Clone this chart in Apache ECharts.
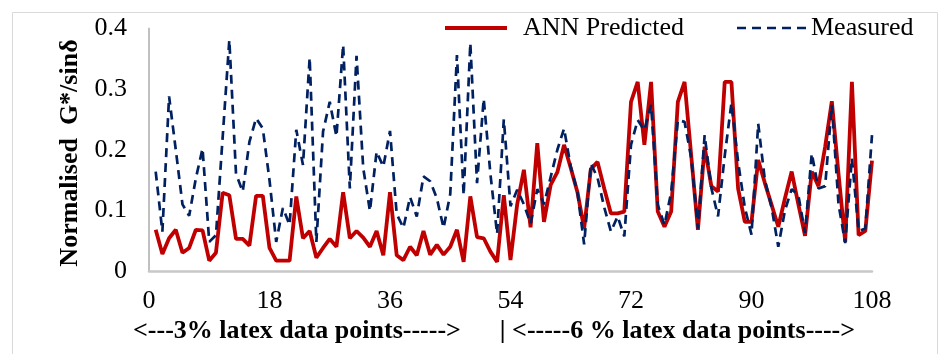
<!DOCTYPE html>
<html><head><meta charset="utf-8">
<script src="https://cdn.jsdelivr.net/npm/echarts@6/dist/echarts.min.js"></script>
<style>html,body{margin:0;padding:0;background:#fff}#c{width:946px;height:354px}</style>
</head><body><div id="c"></div>
<script>
const xMin = 0, xMax = 108, xStep = 18;
const yMin = 0, yMax = 0.4, yStep = 0.1;
const seriesNames = ['ANN Predicted', 'Measured'];
const xTitle = '<---3% latex data points----->      | <-----6 % latex data points---->';
const yTitle = 'Normalised  G*/sin\u03b4';

// values for data points 1..108
const annPredicted = [
  0.068,0.028,0.054,0.068,0.030,0.038,0.068,0.067,0.017,0.030,
  0.129,0.125,0.053,0.053,0.042,0.124,0.124,0.038,0.017,0.017,
  0.017,0.123,0.054,0.066,0.022,0.038,0.053,0.040,0.130,0.054,
  0.066,0.055,0.040,0.066,0.026,0.130,0.026,0.018,0.040,0.026,
  0.066,0.027,0.043,0.027,0.040,0.068,0.015,0.123,0.056,0.054,
  0.032,0.015,0.125,0.018,0.110,0.167,0.072,0.211,0.081,0.142,
  0.163,0.208,0.170,0.130,0.070,0.168,0.180,0.136,0.095,0.095,
  0.098,0.279,0.312,0.208,0.312,0.098,0.073,0.098,0.279,0.312,
  0.190,0.068,0.205,0.140,0.131,0.312,0.312,0.136,0.081,0.081,
  0.183,0.145,0.109,0.073,0.120,0.164,0.110,0.058,0.164,0.140,
  0.205,0.280,0.160,0.048,0.312,0.059,0.066,0.182
];
const measured = [
  0.164,0.065,0.288,0.200,0.110,0.091,0.153,0.202,0.048,0.059,
  0.220,0.381,0.160,0.131,0.213,0.252,0.235,0.150,0.048,0.104,
  0.076,0.233,0.175,0.352,0.048,0.230,0.279,0.222,0.373,0.136,
  0.355,0.170,0.099,0.197,0.172,0.231,0.094,0.071,0.122,0.090,
  0.156,0.148,0.120,0.071,0.127,0.356,0.125,0.376,0.145,0.284,
  0.160,0.061,0.250,0.107,0.134,0.110,0.078,0.135,0.110,0.155,
  0.200,0.235,0.172,0.130,0.044,0.177,0.154,0.105,0.065,0.090,
  0.057,0.208,0.249,0.232,0.274,0.109,0.076,0.130,0.249,0.246,
  0.186,0.070,0.224,0.137,0.090,0.190,0.277,0.180,0.105,0.060,
  0.243,0.150,0.105,0.040,0.100,0.135,0.125,0.063,0.194,0.136,
  0.140,0.274,0.110,0.046,0.186,0.066,0.070,0.224
];

const FONT = "'Liberation Serif','Times New Roman',serif";
const RED = '#C00000', NAVY = '#002060';
const DASH = [9, 6];
const toPairs = arr => arr.map((v, i) => [i + 1, v]);

const chart = echarts.init(document.getElementById('c'), null, {renderer: 'canvas'});
chart.setOption({
  animation: false,
  backgroundColor: '#ffffff',
  grid: {left: 149, right: 74, top: 28.5, bottom: 83},
  xAxis: {
    type: 'value', min: xMin, max: xMax, interval: xStep,
    axisLine: {show: true, lineStyle: {color: '#c8c8c8', width: 2.5}},
    axisTick: {show: false},
    splitLine: {show: false},
    axisLabel: {fontFamily: FONT, fontSize: 26, color: '#000', margin: 17}
  },
  yAxis: {
    type: 'value', min: yMin, max: yMax, interval: yStep,
    axisLine: {show: true, lineStyle: {color: '#c0c0c0', width: 2}},
    axisTick: {show: false},
    splitLine: {show: false},
    axisLabel: {fontFamily: FONT, fontSize: 26, color: '#000', margin: 22,
      formatter: v => v === 0 ? '0' : v.toFixed(1)}
  },
  series: [
    {name: seriesNames[0], type: 'line', data: toPairs(annPredicted), showSymbol: false, symbol: 'none',
     lineStyle: {color: RED, width: 3.8}, itemStyle: {color: RED}, z: 2},
    {name: seriesNames[1], type: 'line', data: toPairs(measured), showSymbol: false, symbol: 'none',
     lineStyle: {color: NAVY, width: 2.7, type: DASH}, itemStyle: {color: NAVY}, z: 3}
  ],
  graphic: [
    {type: 'rect', left: 10, top: 10, shape: {width: 925, height: 360},
     style: {fill: 'none', stroke: '#d9d9d9', lineWidth: 1}, silent: true, z: -1},
    // legend
    {type: 'line', shape: {x1: 445, y1: 28, x2: 507, y2: 28},
     style: {stroke: RED, lineWidth: 3.8}},
    {type: 'text', x: 523, y: 28,
     style: {text: seriesNames[0], font: "26px " + FONT, fill: '#000', verticalAlign: 'middle'}},
    {type: 'line', shape: {x1: 737, y1: 28, x2: 806, y2: 28},
     style: {stroke: NAVY, lineWidth: 2.7, lineDash: DASH}},
    {type: 'text', x: 811, y: 28,
     style: {text: seriesNames[1], font: "26px " + FONT, fill: '#000', verticalAlign: 'middle'}},
    // axis titles
    {type: 'text', x: 133, y: 331,
     style: {text: xTitle, font: "bold 26px " + FONT, fill: '#000', verticalAlign: 'middle'}},
    {type: 'text', x: 70, y: 153, rotation: Math.PI / 2,
     style: {text: yTitle, font: "bold 26px " + FONT, fill: '#000', align: 'center', verticalAlign: 'middle'}}
  ]
});
</script>
</body></html>
